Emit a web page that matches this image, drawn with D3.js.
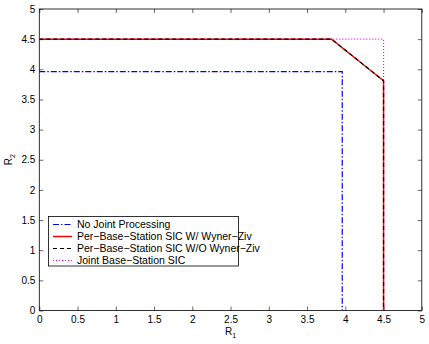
<!DOCTYPE html>
<html><head><meta charset="utf-8">
<script src="https://cdn.jsdelivr.net/npm/d3@7"></script>
<style>body{margin:0;background:#fff}svg{display:block}text{font-family:"Liberation Sans",Arial,sans-serif}</style>
</head><body>
<svg id="c" width="429" height="344"></svg>
<script>
const xTicks = [0,0.5,1,1.5,2,2.5,3,3.5,4,4.5,5];
const yTicks = [0,0.5,1,1.5,2,2.5,3,3.5,4,4.5,5];
const seriesNames = ["No Joint Processing","Per\u2212Base\u2212Station SIC W/ Wyner\u2212Ziv","Per\u2212Base\u2212Station SIC W/O Wyner\u2212Ziv","Joint Base\u2212Station SIC"];
const noJointX = [0, 3.96, 3.96];
const noJointY = [3.96, 3.96, 0];
const perBSWithX = [0, 3.82, 4.5, 4.5];
const perBSWithY = [4.5, 4.5, 3.81, 0];
const perBSWithoutX = [0, 3.82, 4.5, 4.5];
const perBSWithoutY = [4.5, 4.5, 3.81, 0];
const jointX = [0, 4.5, 4.5];
const jointY = [4.5, 4.5, 0];

const styles = [
  {color:"#0000ff", dash:"6,2,1.5,2", w:1.2},
  {color:"#ff0000", dash:null, w:1.5},
  {color:"#000000", dash:"4,3", w:1.2},
  {color:"#ff00ff", dash:"1,2", w:1.2}
];
const series = [
  {x:noJointX, y:noJointY},
  {x:perBSWithX, y:perBSWithY},
  {x:perBSWithoutX, y:perBSWithoutY},
  {x:jointX, y:jointY}
];
const drawOrder = [3,0,1,2];

const svg = d3.select("#c");
const L=39.3, R=421.8, T=9, B=310.5;
const x = d3.scaleLinear().domain([0,5]).range([L,R]);
const y = d3.scaleLinear().domain([0,5]).range([B,T]);

const g = svg.append("g");
const tl = 4;
const ax = (sel, axis) => sel.call(axis).call(s=>s.select(".domain").remove())
  .call(s=>s.selectAll("line").attr("stroke","#000").attr("stroke-width",0.6))
  .call(s=>s.selectAll("text").attr("font-size",10).attr("fill","#000").attr("font-family","Liberation Sans, Arial, sans-serif"));
ax(g.append("g").attr("transform",`translate(0,${B})`), d3.axisBottom(x).tickValues(xTicks).tickSize(-tl).tickPadding(5).tickFormat(d3.format("")));
ax(g.append("g").attr("transform",`translate(0,${T})`), d3.axisTop(x).tickValues(xTicks).tickSize(-tl).tickFormat(""));
ax(g.append("g").attr("transform",`translate(${L},0)`), d3.axisLeft(y).tickValues(yTicks).tickSize(-tl).tickPadding(4).tickFormat(d3.format("")));
ax(g.append("g").attr("transform",`translate(${R},0)`), d3.axisRight(y).tickValues(yTicks).tickSize(-tl).tickFormat(""));
g.append("rect").attr("x",L).attr("y",T).attr("width",R-L).attr("height",B-T).attr("fill","none").attr("stroke","#000").attr("stroke-width",0.8);

const line = d3.line().x(d=>x(d[0])).y(d=>y(d[1]));
drawOrder.forEach(i=>{
  const s=series[i], st=styles[i];
  const pts = s.x.map((v,k)=>[v,s.y[k]]);
  g.append("path").attr("d",line(pts)).attr("fill","none").attr("stroke",st.color)
   .attr("stroke-width",st.w).attr("stroke-dasharray",st.dash);
});

const lg = svg.append("g");
lg.append("rect").attr("x",48.5).attr("y",216.5).attr("width",190).attr("height",49.5).attr("fill","#fff").attr("stroke","#000").attr("stroke-width",0.8);
seriesNames.forEach((n,i)=>{
  const yy = 224.5 + i*12;
  const st=styles[i];
  lg.append("line").attr("x1",53).attr("x2",72).attr("y1",yy).attr("y2",yy).attr("stroke",st.color).attr("stroke-width",st.w).attr("stroke-dasharray",st.dash);
  lg.append("text").attr("x",77).attr("y",yy+3.8).attr("font-size",10.5).text(n);
});

const xl = svg.append("text").attr("x",(L+R)/2).attr("y",335).attr("text-anchor","middle").attr("font-size",10);
xl.append("tspan").text("R");
xl.append("tspan").attr("font-size",7).attr("dy",3).text("1");
const yl = svg.append("text").attr("transform",`translate(12,${(T+B)/2}) rotate(-90)`).attr("text-anchor","middle").attr("font-size",10);
yl.append("tspan").text("R");
yl.append("tspan").attr("font-size",7).attr("dy",3).text("2");
</script>
</body></html>
